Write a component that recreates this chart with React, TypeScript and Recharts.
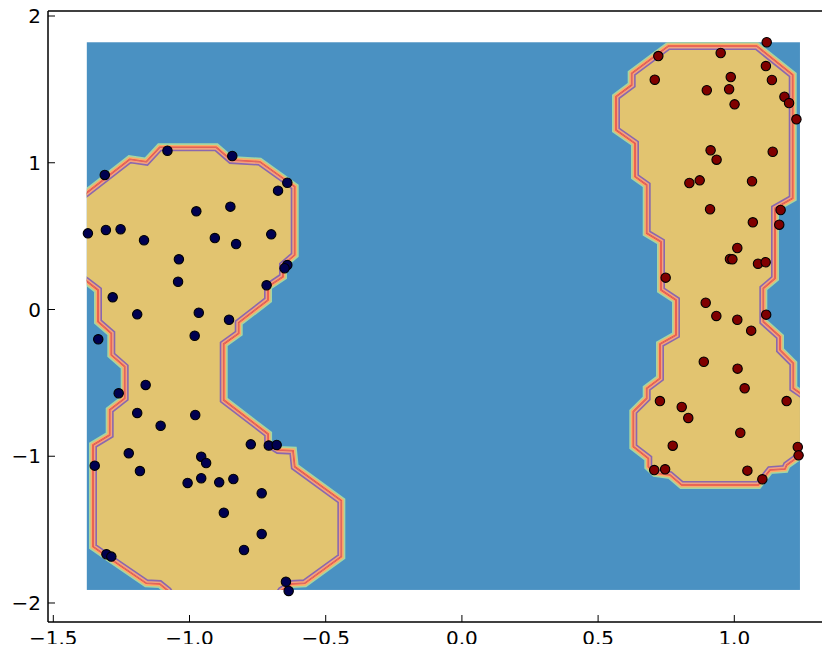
import React from 'react';
import { ScatterChart, Scatter, XAxis, YAxis, ReferenceArea } from 'recharts';

const xTicks = [-1.5, -1.0, -0.5, 0.0, 0.5, 1.0];
const xTickLabels = ['\u22121.5', '\u22121.0', '\u22120.5', '0.0', '0.5', '1.0'];
const yTicks = [-2, -1, 0, 1, 2];
const yTickLabels = ['\u22122', '\u22121', '0', '1', '2'];

const xDomain: [number, number] = [-1.5195, 1.3513];
const yDomain: [number, number] = [-2.1295, 2.0341];

// extent of the evaluated grid (blue background)
const gridX: [number, number] = [-1.377, 1.241];
const gridY: [number, number] = [-1.911, 1.821];

// decision-region boundaries (data units)
const leftRegion: [number, number][] = [
  [-1.4387, 0.708], [-1.3789, 0.7939], [-1.2195, 1.0235], [-1.1586, 1.0072],
  [-1.1094, 1.1053], [-0.9016, 1.1053], [-0.8476, 1.0187], [-0.7423, 1.0072],
  [-0.6138, 0.8368], [-0.6138, 0.3714], [-0.6568, 0.3032], [-0.6568, 0.2235],
  [-0.7118, 0.1554], [-0.7118, 0.0647], [-0.8194, -0.0899], [-0.8194, -0.1622],
  [-0.8744, -0.2351], [-0.8744, -0.6167], [-0.7115, -0.8484], [-0.7115, -0.9165],
  [-0.6751, -0.9574], [-0.62, -0.9622], [-0.6138, -1.0712], [-0.4427, -1.3029],
  [-0.4427, -1.6845], [-0.5771, -1.8658], [-0.6263, -1.8705], [-0.663, -1.9162],
  [-0.6971, -2.0136], [-1.0459, -2.0136], [-1.0789, -1.9162], [-1.1094, -1.8705],
  [-1.1586, -1.8658], [-1.293, -1.6954], [-1.3543, -1.6164], [-1.3543, -0.9233],
  [-1.293, -0.8552], [-1.293, -0.6848], [-1.2379, -0.6051], [-1.2379, -0.3898],
  [-1.2871, -0.3101], [-1.2871, -0.1622], [-1.3359, -0.0831], [-1.3359, 0.1329],
  [-1.3789, 0.1942], [-1.4387, 0.2692],
];

const rightRegion: [number, number][] = [
  [0.7577, 1.7956], [1.0822, 1.7956], [1.2144, 1.598], [1.2144, 0.7578],
  [1.1494, 0.6896], [1.1494, 0.2126], [1.1065, 0.1445], [1.1065, -0.0831],
  [1.1678, -0.1853], [1.1678, -0.276], [1.2166, -0.3666], [1.2166, -0.537],
  [1.2963, -0.6405], [1.2963, -0.971], [1.2349, -1.0031], [1.1924, -1.0596],
  [1.1861, -1.0869], [1.1311, -1.0937], [1.0881, -1.1959], [0.8069, -1.1959],
  [0.7639, -1.1278], [0.7089, -1.1141], [0.6843, -1.0712], [0.6843, -1.014],
  [0.6292, -0.9349], [0.6292, -0.6964], [0.6784, -0.6051], [0.6784, -0.537],
  [0.7272, -0.4688], [0.7272, -0.2351], [0.786, -0.1738], [0.786, 0.0647],
  [0.7309, 0.1329], [0.7309, 0.462], [0.6784, 0.5193], [0.6784, 0.8484],
  [0.6355, 0.9049], [0.6355, 1.1325], [0.5657, 1.2232], [0.5657, 1.4501],
  [0.6233, 1.5298], [0.6233, 1.6095],
];

const class0Points = [
  { x: -1.311, y: 0.917 }, { x: -1.081, y: 1.082 }, { x: -0.843, y: 1.046 },
  { x: -0.641, y: 0.864 }, { x: -0.675, y: 0.81 }, { x: -0.975, y: 0.669 },
  { x: -0.85, y: 0.701 }, { x: -1.373, y: 0.519 }, { x: -1.307, y: 0.542 },
  { x: -1.253, y: 0.547 }, { x: -1.167, y: 0.472 }, { x: -0.907, y: 0.487 },
  { x: -0.829, y: 0.446 }, { x: -0.7, y: 0.512 }, { x: -1.039, y: 0.342 },
  { x: -1.042, y: 0.189 }, { x: -0.641, y: 0.303 }, { x: -0.651, y: 0.281 },
  { x: -0.717, y: 0.165 }, { x: -1.282, y: 0.083 }, { x: -1.192, y: -0.033 },
  { x: -0.966, y: -0.022 }, { x: -0.855, y: -0.07 }, { x: -1.335, y: -0.203 },
  { x: -0.981, y: -0.179 }, { x: -1.161, y: -0.514 }, { x: -1.26, y: -0.571 },
  { x: -1.192, y: -0.705 }, { x: -0.979, y: -0.719 }, { x: -1.106, y: -0.792 },
  { x: -0.775, y: -0.919 }, { x: -0.709, y: -0.927 }, { x: -0.68, y: -0.923 },
  { x: -1.223, y: -0.98 }, { x: -0.957, y: -1.003 }, { x: -0.939, y: -1.046 },
  { x: -1.348, y: -1.064 }, { x: -1.182, y: -1.101 }, { x: -0.957, y: -1.15 },
  { x: -1.007, y: -1.182 }, { x: -0.891, y: -1.178 }, { x: -0.839, y: -1.155 },
  { x: -0.735, y: -1.252 }, { x: -0.874, y: -1.385 }, { x: -0.735, y: -1.53 },
  { x: -0.8, y: -1.639 }, { x: -1.305, y: -1.668 }, { x: -1.287, y: -1.684 },
  { x: -0.646, y: -1.855 }, { x: -0.636, y: -1.918 },
];

const class1Points = [
  { x: 1.119, y: 1.821 }, { x: 0.721, y: 1.727 }, { x: 0.95, y: 1.748 },
  { x: 1.116, y: 1.659 }, { x: 0.708, y: 1.566 }, { x: 0.987, y: 1.584 },
  { x: 1.138, y: 1.564 }, { x: 0.899, y: 1.494 }, { x: 0.981, y: 1.501 },
  { x: 1.184, y: 1.45 }, { x: 1.201, y: 1.407 }, { x: 1.001, y: 1.398 },
  { x: 1.228, y: 1.296 }, { x: 0.913, y: 1.085 }, { x: 0.935, y: 1.021 },
  { x: 1.141, y: 1.075 }, { x: 0.835, y: 0.862 }, { x: 0.873, y: 0.88 },
  { x: 1.065, y: 0.874 }, { x: 0.911, y: 0.683 }, { x: 1.17, y: 0.678 },
  { x: 1.068, y: 0.594 }, { x: 1.165, y: 0.578 }, { x: 1.011, y: 0.419 },
  { x: 0.984, y: 0.344 }, { x: 0.993, y: 0.342 }, { x: 1.087, y: 0.312 },
  { x: 1.115, y: 0.322 }, { x: 0.748, y: 0.217 }, { x: 0.895, y: 0.046 },
  { x: 0.934, y: -0.044 }, { x: 1.011, y: -0.07 }, { x: 1.117, y: -0.035 },
  { x: 1.062, y: -0.144 }, { x: 0.888, y: -0.356 }, { x: 1.012, y: -0.403 },
  { x: 1.038, y: -0.537 }, { x: 0.727, y: -0.624 }, { x: 0.807, y: -0.664 },
  { x: 0.831, y: -0.739 }, { x: 1.192, y: -0.624 }, { x: 1.022, y: -0.84 },
  { x: 0.774, y: -0.928 }, { x: 1.233, y: -0.937 }, { x: 1.236, y: -0.994 },
  { x: 0.706, y: -1.094 }, { x: 0.746, y: -1.089 }, { x: 1.048, y: -1.098 },
  { x: 1.103, y: -1.157 },
];

const BLUE = '#4a91c2';
const TAN = '#e2c470';
const GREEN = '#a4d6a2';
const ORANGE = '#fbad68';
const RED = '#e8514a';
const PEACH = '#f2a27e';
const PURPLE = '#8a68ae';

const FONT = "'DejaVu Sans', sans-serif";

const DecisionSurface = (props: any) => {
  const { x, y, width, height } = props;
  const px = (v: number) => x + ((v - gridX[0]) / (gridX[1] - gridX[0])) * width;
  const py = (v: number) => y + ((gridY[1] - v) / (gridY[1] - gridY[0])) * height;
  const toPath = (poly: [number, number][]) =>
    poly.map(([a, b], i) => `${i ? 'L' : 'M'}${px(a).toFixed(2)},${py(b).toFixed(2)}`).join(' ') + ' Z';
  const regions = [
    { id: 'regL', d: toPath(leftRegion) },
    { id: 'regR', d: toPath(rightRegion) },
  ];
  const sp = { fill: 'none', strokeLinejoin: 'miter' as const, strokeMiterlimit: 4 };
  return (
    <g>
      <defs>
        <clipPath id="gridClip">
          <rect x={x} y={y} width={width} height={height} />
        </clipPath>
        {regions.map((r) => (
          <clipPath id={r.id + 'Clip'} key={r.id}>
            <path d={r.d} />
          </clipPath>
        ))}
      </defs>
      <rect x={x} y={y} width={width} height={height} fill={BLUE} />
      <g clipPath="url(#gridClip)">
        {regions.map((r) => (
          <g key={r.id}>
            <path d={r.d} {...sp} stroke={GREEN} strokeWidth={8} />
            <path d={r.d} {...sp} stroke={ORANGE} strokeWidth={4.8} />
            <path d={r.d} {...sp} stroke={RED} strokeWidth={1.6} />
            <g clipPath={`url(#${r.id}Clip)`}>
              <path d={r.d} fill={TAN} stroke={PURPLE} strokeWidth={8} strokeLinejoin="miter" />
              <path d={r.d} {...sp} stroke={PEACH} strokeWidth={4.8} />
              <path d={r.d} {...sp} stroke={RED} strokeWidth={1.6} />
            </g>
          </g>
        ))}
      </g>
    </g>
  );
};

const Dot0 = (p: any) => <circle cx={p.cx} cy={p.cy} r={4.7} fill="#000050" stroke="#000" strokeWidth={1.1} />;
const Dot1 = (p: any) => <circle cx={p.cx} cy={p.cy} r={4.7} fill="#800000" stroke="#000" strokeWidth={1.1} />;

const tickStyle = { fill: '#000', fontSize: 20, fontFamily: FONT };
const axisLineStyle = { stroke: '#000', strokeWidth: 1.5 };
const tickLineStyle = { stroke: '#000', strokeWidth: 1 };

export default function App() {
  return (
    <div style={{ width: 822, height: 644, marginBottom: -8, overflow: 'hidden' }}>
      <ScatterChart width={822} height={644} margin={{ top: 2, right: 0, bottom: 0, left: 0 }}>
        <XAxis
          type="number"
          dataKey="x"
          domain={xDomain}
          allowDataOverflow
          ticks={xTicks}
          interval={0}
          tickFormatter={(v: number) => xTickLabels[xTicks.indexOf(v)] ?? String(v)}
          height={30}
          axisLine={axisLineStyle}
          tickLine={tickLineStyle}
          tickSize={-7}
          tickMargin={16}
          tick={tickStyle}
        />
        <XAxis
          xAxisId="top"
          orientation="top"
          type="number"
          domain={xDomain}
          allowDataOverflow
          ticks={xTicks}
          interval={0}
          tickFormatter={() => ''}
          height={1}
          axisLine={axisLineStyle}
          tickLine={tickLineStyle}
          tickSize={-7}
          tick={tickStyle}
        />
        <YAxis
          type="number"
          dataKey="y"
          domain={yDomain}
          allowDataOverflow
          ticks={yTicks}
          interval={0}
          tickFormatter={(v: number) => yTickLabels[yTicks.indexOf(v)] ?? String(v)}
          width={40}
          axisLine={axisLineStyle}
          tickLine={tickLineStyle}
          tickSize={-7}
          tickMargin={14}
          tick={tickStyle}
        />
        <ReferenceArea
          x1={gridX[0]}
          x2={gridX[1]}
          y1={gridY[0]}
          y2={gridY[1]}
          ifOverflow="visible"
          shape={DecisionSurface}
        />
        <Scatter data={class0Points} shape={Dot0} isAnimationActive={false} />
        <Scatter data={class1Points} shape={Dot1} isAnimationActive={false} />
      </ScatterChart>
    </div>
  );
}
